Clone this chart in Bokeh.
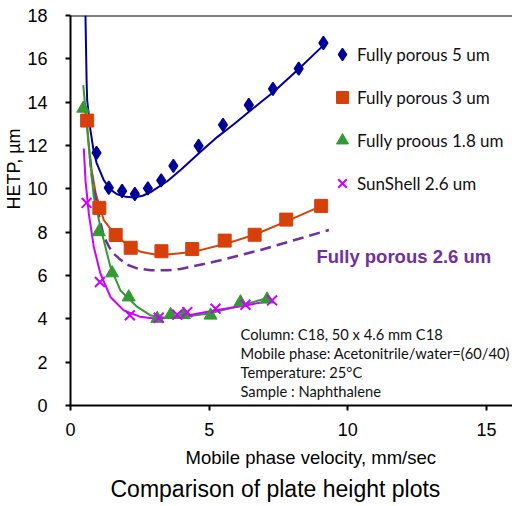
import math
from bokeh.plotting import figure
from bokeh.models import (Range1d, FixedTicker, Span, Label, Legend, LegendItem, Title)
from bokeh.embed import file_html
from bokeh.resources import INLINE

# ---------------- data ----------------
# Fully porous 5 um
fp5_u = [0.94, 1.38, 1.86, 2.32, 2.79, 3.27, 3.71, 4.62, 5.50, 6.43, 7.30, 8.23, 9.12]
fp5_h = [11.66, 10.05, 9.90, 9.76, 10.02, 10.39, 11.06, 11.98, 12.95, 13.87, 14.61, 15.55, 16.73]
fp5_fit_u = [0.54, 0.58, 0.60, 0.72, 0.84, 0.94, 1.20, 1.45, 1.68, 2.00, 2.29, 2.60, 2.89,
             3.49, 4.00, 4.69, 5.30, 5.89, 6.86, 7.30, 8.20, 9.12]
fp5_fit_h = [18.0, 15.0, 14.1, 12.7, 11.7, 11.2, 10.4, 9.95, 9.75, 9.63, 9.60, 9.68, 9.85,
             10.35, 10.9, 11.71, 12.4, 12.98, 14.0, 14.45, 15.5, 16.62]

# Fully porous 3 um
fp3_u = [0.60, 1.04, 1.63, 2.17, 3.28, 4.39, 5.56, 6.64, 7.78, 9.04]
fp3_h = [13.15, 9.12, 7.87, 7.28, 7.12, 7.22, 7.61, 7.88, 8.58, 9.21]
fp3_fit_u = [0.50, 0.60, 0.72, 0.91, 1.20, 1.57, 2.05, 2.52, 3.00, 3.50, 4.40, 5.56, 6.64, 7.78, 9.04]
fp3_fit_h = [13.9, 12.9, 11.17, 9.79, 8.56, 7.95, 7.40, 7.10, 6.98, 6.97, 7.08, 7.45, 7.88, 8.50, 9.20]

# Fully proous 1.8 um
fp18_u = [0.46, 1.02, 1.50, 2.10, 3.13, 3.61, 4.09, 5.05, 6.13, 7.09]
fp18_h = [13.71, 8.01, 6.11, 5.00, 4.01, 4.19, 4.19, 4.16, 4.77, 4.90]
fp18_fit_u = [0.46, 0.66, 0.84, 1.08, 1.44, 1.80, 2.41, 2.90, 3.40, 4.00, 5.00, 6.10, 7.20]
fp18_fit_h = [14.79, 11.94, 9.63, 8.24, 6.39, 5.31, 4.55, 4.15, 4.05, 4.08, 4.25, 4.60, 5.00]

# SunShell 2.6 um
ss_u = [0.58, 1.06, 2.14, 3.18, 3.85, 4.21, 5.23, 6.31, 7.27]
ss_h = [9.35, 5.70, 4.16, 4.05, 4.19, 4.31, 4.47, 4.65, 4.85]
ss_fit_u = [0.48, 0.54, 0.66, 0.84, 1.08, 1.44, 1.92, 2.50, 3.10, 3.97, 5.23, 6.31, 7.28]
ss_fit_h = [11.86, 10.4, 8.86, 7.32, 6.08, 5.01, 4.39, 4.10, 4.00, 4.10, 4.40, 4.62, 4.85]

# Fully porous 2.6 um (curve only, dashed)
fp26_u = [0.70, 0.78, 1.00, 1.20, 1.40, 1.56, 1.74, 2.04, 2.40, 2.89, 3.50, 3.97, 5.41, 6.86, 9.32]
fp26_h = [11.5, 10.5, 8.9, 7.8, 7.3, 7.0, 6.8, 6.5, 6.33, 6.24, 6.24, 6.30, 6.70, 7.18, 8.10]

x_ticks = [0, 5, 10, 15]
y_ticks = [0, 2, 4, 6, 8, 10, 12, 14, 16, 18]

series_names = ["Fully porous 5 um", "Fully porous 3 um", "Fully proous 1.8 um", "SunShell 2.6 um"]
note_lines = ["Column: C18, 50 x 4.6 mm C18",
              "Mobile phase: Acetonitrile/water=(60/40)",
              "Temperature: 25\u00b0C",
              "Sample : Naphthalene"]

# ---------------- styling ----------------
BLUE = "#000099"
RED = "#D6410B"
GREEN = "#339933"
MAGENTA = "#CC00FF"
PURPLE = "#7030A0"

p = figure(width=512, height=506, output_backend="svg", toolbar_location=None,
           x_range=Range1d(0, 15.94), y_range=Range1d(0, 18),
           min_border_left=70, min_border_right=0, min_border_top=15, min_border_bottom=101)
p.outline_line_color = None
p.grid.visible = False
p.background_fill_color = "white"
p.border_fill_color = "white"

for ax in (p.xaxis[0], p.yaxis[0]):
    ax.axis_line_width = 2
    ax.axis_line_color = "black"
    ax.major_tick_line_width = 2
    ax.major_tick_line_color = "black"
    ax.major_tick_out = 5
    ax.major_tick_in = 0
    ax.minor_tick_line_color = None
    ax.major_label_text_font = "Liberation Sans"
    ax.major_label_text_font_size = "18px"
    ax.major_label_text_color = "black"
p.xaxis.ticker = FixedTicker(ticks=x_ticks)
p.yaxis.ticker = FixedTicker(ticks=y_ticks)
p.xaxis.major_label_standoff = 12
p.yaxis.major_label_standoff = 18

p.add_layout(Span(location=18, dimension="width", line_color="black", line_width=2))

# curves
p.line(fp5_fit_u, fp5_fit_h, line_color=BLUE, line_width=2)
p.line(fp3_fit_u, fp3_fit_h, line_color=RED, line_width=2)
p.line(fp26_u, fp26_h, line_color=PURPLE, line_width=2.5, line_dash="11 6")
p.line(fp18_fit_u, fp18_fit_h, line_color=GREEN, line_width=2)
p.line(ss_fit_u, ss_fit_h, line_color=MAGENTA, line_width=2)

# markers
r5 = p.scatter(fp5_u, fp5_h, marker="diamond", size=13, line_width=1.5,
               fill_color=BLUE, line_color=BLUE)
r3 = p.scatter(fp3_u, fp3_h, marker="square", size=13, fill_color=RED, line_color=RED)
r18 = p.scatter(fp18_u, fp18_h, marker="triangle", size=13, fill_color=GREEN, line_color=GREEN)
rss = p.scatter(ss_u, ss_h, marker="x", size=14, line_color=MAGENTA, line_width=2)

legend = Legend(items=[LegendItem(label=n, renderers=[r]) for n, r in
                       zip(series_names, [r5, r3, r18, rss])],
                location=(257, 207), orientation="vertical",
                glyph_width=30, glyph_height=30, label_height=30, label_standoff=0,
                spacing=13, padding=0, margin=0,
                border_line_color=None, background_fill_alpha=0,
                label_text_font="Lato", label_text_font_size="17px",
                label_text_color="#111111")
p.add_layout(legend)

FL = 70   # frame left (canvas px)
FB = 405  # frame bottom (canvas px)

p.add_layout(Label(x=316 - FL, y=FB - 256, x_units="screen", y_units="screen",
                   text="Fully porous 2.6 um", text_font="Liberation Sans",
                   text_font_style="bold", text_font_size="18.5px", text_color=PURPLE,
                   text_baseline="middle", text_align="left"))

for i, line in enumerate(note_lines):
    p.add_layout(Label(x=240 - FL, y=FB - (333 + 19 * i), x_units="screen", y_units="screen",
                       text=line, text_font="Lato", text_font_size="14.7px",
                       text_color="#111111", text_baseline="middle", text_align="left"))

# axis titles and chart caption as layout titles
p.add_layout(Title(text="HETP, \u00b5m", align="right", offset=113, standoff=2,
                   text_font="Liberation Sans", text_font_size="18px",
                   text_font_style="normal", text_color="black"), "left")
p.add_layout(Title(text="Mobile phase velocity, mm/sec", align="left", offset=115, standoff=12,
                   text_font="Liberation Sans", text_font_size="18.5px",
                   text_font_style="normal", text_color="black"), "below")
p.add_layout(Title(text="Comparison of plate height plots", align="left", offset=40, standoff=0,
                   text_font="Liberation Sans", text_font_size="23px",
                   text_font_style="normal", text_color="black"), "below")

open("out.html", "w").write(file_html(p, INLINE))
